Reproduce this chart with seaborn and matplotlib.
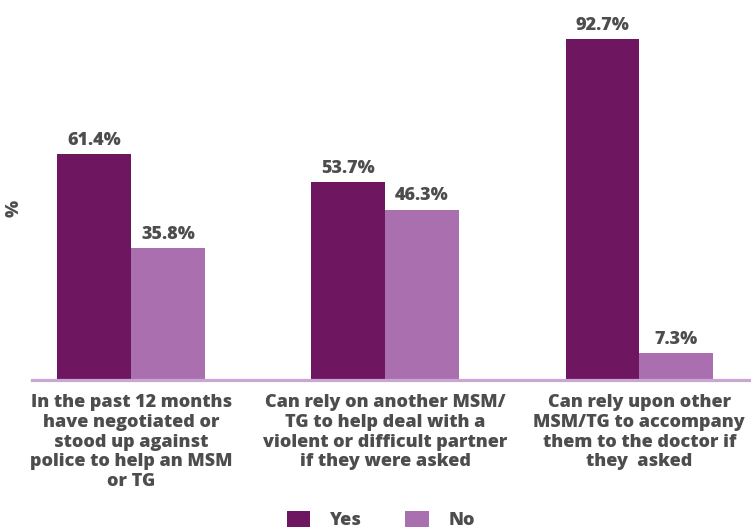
import matplotlib
matplotlib.use("Agg")
import matplotlib.pyplot as plt
import seaborn as sns
import pandas as pd
from matplotlib.patches import Patch

categories = [
    "In the past 12 months\nhave negotiated or\nstood up against\npolice to help an MSM\nor TG",
    "Can rely on another MSM/\nTG to help deal with a\nviolent or difficult partner\nif they were asked",
    "Can rely upon other\nMSM/TG to accompany\nthem to the doctor if\nthey  asked",
]
series = ["Yes", "No"]
yes_vals = [61.4, 53.7, 92.7]
no_vals = [35.8, 46.3, 7.3]
colors = {"Yes": "#6F1660", "No": "#AA6FAE"}

df = pd.DataFrame({
    "category": categories * 2,
    "response": ["Yes"] * 3 + ["No"] * 3,
    "value": yes_vals + no_vals,
})

sns.set_theme(style="white")
plt.rcParams["font.family"] = ["Open Sans", "DejaVu Sans"]
text_color = "#4D4D4D"
WEIGHT = "heavy"
FS = 13

W, H = 751, 529
fig = plt.figure(figsize=(W / 100, H / 100), dpi=100)
left, right, top, bottom = 32, 751, 10, 380
ax = fig.add_axes([left / W, (H - bottom) / H, (right - left) / W, (bottom - top) / H])

sns.barplot(data=df, x="category", y="value", hue="response", order=categories,
            hue_order=series, palette=colors, width=0.58, gap=0, ax=ax,
            legend=False, saturation=1, linewidth=0)

ax.set_ylim(0, 100.6)
ax.set_xlim(-0.39, 2.44)

for cont in ax.containers:
    ax.bar_label(cont, labels=[f"{v.get_height():.1f}%" for v in cont],
                 padding=4, fontsize=FS, fontweight=WEIGHT, color=text_color)

for s in ["top", "right", "left"]:
    ax.spines[s].set_visible(False)
ax.spines["bottom"].set_color("#C8A8D2")
ax.spines["bottom"].set_linewidth(2.3)
ax.set_yticks([])
ax.set_xlabel("")
ax.set_ylabel("%", fontsize=FS, fontweight=WEIGHT, color=text_color)
ax.yaxis.set_label_coords(-0.0125, 0.465)
ax.tick_params(axis="x", length=0, pad=10)
ax.set_xticks(range(3))
ax.set_xticklabels(categories, fontsize=FS, fontweight=WEIGHT, color=text_color,
                   linespacing=1.22)

handles = [Patch(facecolor=colors[s], edgecolor="none", label=s) for s in series]
leg = fig.legend(handles=handles, loc="center", bbox_to_anchor=(381 / W, 9 / H),
                 ncol=2, frameon=False, prop={"family": ["Open Sans", "DejaVu Sans"],
                                              "weight": WEIGHT, "size": FS},
                 handlelength=1.3, handleheight=1.0, handletextpad=1.1,
                 columnspacing=2.4)
for t in leg.get_texts():
    t.set_color(text_color)

fig.savefig("out.png", dpi=100)
